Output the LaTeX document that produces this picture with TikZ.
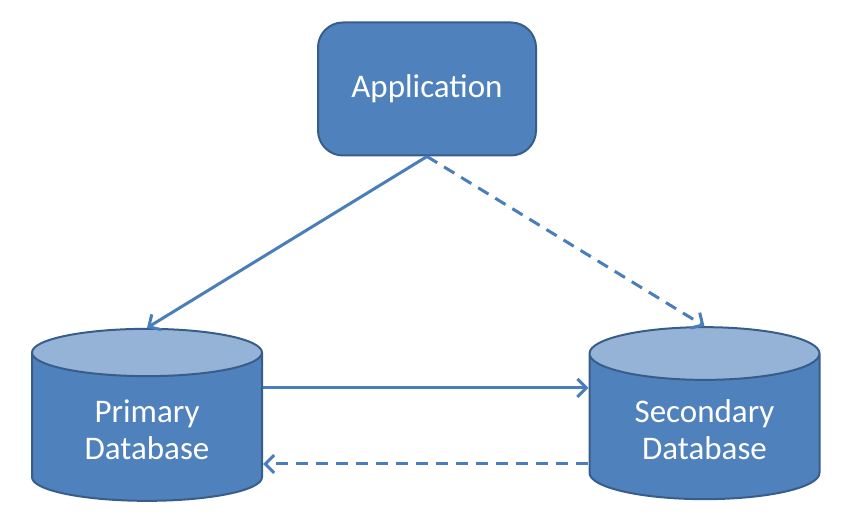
\documentclass[tikz,border=0pt]{standalone}
\usepackage{fontspec}
\setmainfont{Carlito}
\usetikzlibrary{positioning,arrows.meta,shapes.geometric}

\definecolor{boxblue}{HTML}{4F81BD}
\definecolor{edgeblue}{HTML}{385D8A}
\definecolor{capblue}{HTML}{95B3D7}
\definecolor{linkblue}{HTML}{4A7EBB}

\begin{document}
\begin{tikzpicture}[
    x=1pt, y=1pt,
    font=\fontsize{33}{37}\selectfont,
    app/.style={draw=edgeblue, line width=2pt, fill=boxblue, text=white,
                rounded corners=25pt, minimum width=218pt, minimum height=133pt},
    db/.style={cylinder, shape border rotate=90, draw=edgeblue, line width=2pt,
               cylinder uses custom fill, cylinder body fill=boxblue,
               cylinder end fill=capblue, text=white, align=center,
               aspect=0.36, minimum width=230pt, minimum height=172pt},
    link/.style={->, >={Straight Barb[length=9pt, width=18pt]}, linkblue,
                 line width=3pt},
    back/.style={link, dash pattern=on 12pt off 8pt},
  ]
  \useasboundingbox (0,0) rectangle (847,529);

  % --- application (top) ---
  \node[app] (app) at (427,440) {Application};

  % --- databases (bottom) ---
  \node[db] (prim) at (147,99) {Primary\\Database};
  \node[db] (sec) at (704.5,99) {Secondary\\Database};

  % writes and replication
  \draw[link] (app.south) -- (prim.north);
  \draw[back] (app.south) -- (sec.north);
  \draw[link] ([yshift=42pt]prim.east) -- ([yshift=42pt]sec.west);
  \draw[back] ([yshift=-34pt]sec.west) -- ([yshift=-34pt]prim.east);
\end{tikzpicture}
\end{document}
